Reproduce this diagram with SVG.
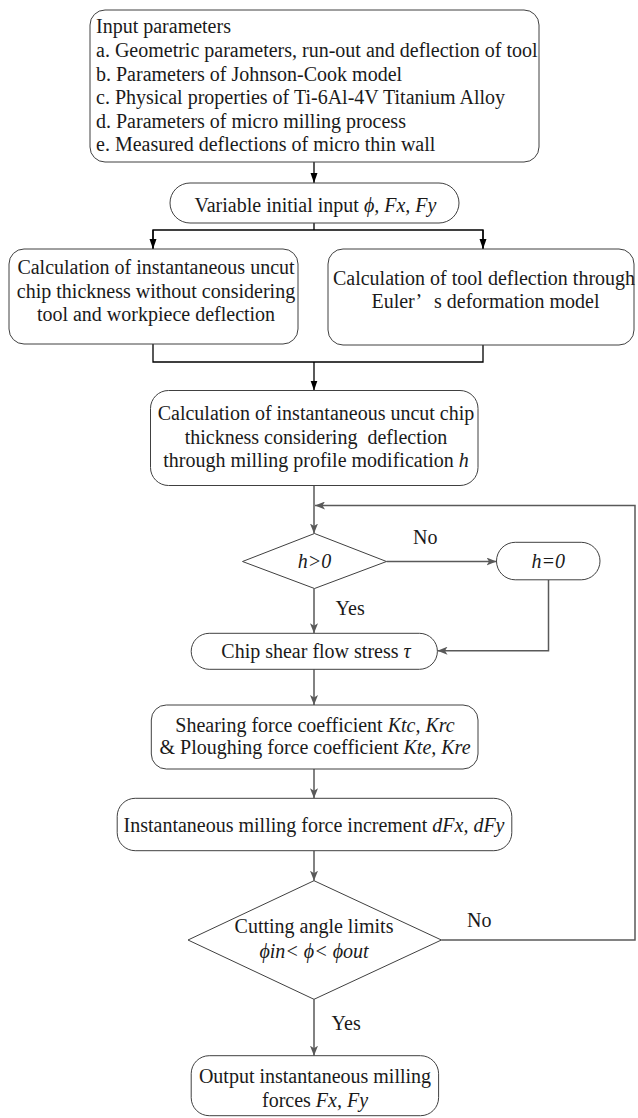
<svg xmlns="http://www.w3.org/2000/svg" width="638" height="1118" viewBox="0 0 638 1118">
<defs>
<style>
text{font-family:"Liberation Serif","Times New Roman",serif;font-size:20px;fill:#1a1a1a}
.c{text-anchor:middle}
.i{font-style:italic}
.box{fill:#fff;stroke:#404040;stroke-width:1}
.lk{fill:none;stroke:#000;stroke-width:1.3}
.lg{fill:none;stroke:#595959;stroke-width:1.5}
</style>
<marker id="ak" markerUnits="userSpaceOnUse" markerWidth="10" markerHeight="8" refX="10" refY="4" orient="auto">
<path d="M0,0.5 L10,4 L0,7.5 z" fill="#000"/>
</marker>
<marker id="ag" markerUnits="userSpaceOnUse" markerWidth="10" markerHeight="8" refX="10" refY="4" orient="auto">
<path d="M0,0 L10,4 L0,8 L2.5,4 z" fill="#595959"/>
</marker>
</defs>
<rect width="638" height="1118" fill="#fff"/>

<g id="connectors">
<line class="lk" x1="314" y1="162" x2="314" y2="183" marker-end="url(#ak)"/>
<polyline class="lk" points="314,223 314,230"/>
<polyline class="lk" points="153,249 153,230 483,230 483,249"/>
<line class="lk" x1="153" y1="230" x2="153" y2="249" marker-end="url(#ak)"/>
<line class="lk" x1="483" y1="230" x2="483" y2="249" marker-end="url(#ak)"/>
<polyline class="lk" points="153,344 153,362 483,362 483,345"/>
<line class="lk" x1="314" y1="362" x2="314" y2="390.5" marker-end="url(#ak)"/>
<line class="lg" x1="314" y1="485.5" x2="314" y2="533.5" marker-end="url(#ag)"/>
<polyline class="lg" points="441.4,940 635,940 635,505.5 315,505.5" marker-end="url(#ag)"/>
<line class="lg" x1="386.5" y1="561.5" x2="496.5" y2="561.5" marker-end="url(#ag)"/>
<polyline class="lg" points="548.5,580 548.5,650.7 437.5,650.7" marker-end="url(#ag)"/>
<line class="lg" x1="314" y1="588.5" x2="314" y2="633.3" marker-end="url(#ag)"/>
<line class="lg" x1="314" y1="669.3" x2="314" y2="705" marker-end="url(#ag)"/>
<line class="lg" x1="314" y1="769" x2="314" y2="798.3" marker-end="url(#ag)"/>
<line class="lg" x1="314" y1="850.7" x2="314" y2="880.7" marker-end="url(#ag)"/>
<line class="lg" x1="314" y1="999.3" x2="314" y2="1055.7" marker-end="url(#ag)"/>
<text x="413" y="544">No</text>
<text x="335.6" y="615">Yes</text>
<text x="467" y="926.7">No</text>
<text x="331.6" y="1030">Yes</text>
</g>

<g id="input">
<rect class="box" x="90" y="10" width="449" height="152" rx="15"/>
<text x="96" y="33.3">Input parameters</text>
<text x="96" y="57">a. Geometric parameters, run-out and deflection of tool</text>
<text x="96" y="80.5">b. Parameters of Johnson-Cook model</text>
<text x="96" y="104">c. Physical properties of Ti-6Al-4V Titanium Alloy</text>
<text x="96" y="127.5">d. Parameters of micro milling process</text>
<text x="96" y="151">e. Measured deflections of micro thin wall</text>
</g>

<g id="variable">
<rect class="box" x="170" y="183" width="289" height="40" rx="20"/>
<text class="c" x="315.5" y="211.5">Variable initial input <tspan class="i">ϕ, Fx, Fy</tspan></text>
</g>

<g id="calc-undeflected">
<rect class="box" x="9" y="249" width="289" height="95" rx="15"/>
<text class="c" x="156" y="274.3">Calculation of instantaneous uncut</text>
<text class="c" x="156" y="297.7">chip thickness without considering</text>
<text class="c" x="156" y="321">tool and workpiece deflection</text>
</g>

<g id="calc-tool-deflection">
<rect class="box" x="328" y="249" width="306" height="96" rx="15"/>
<text class="c" x="484" y="285">Calculation of tool deflection through</text>
<text class="c" x="485.5" y="308.3">Euler’<tspan dx="13">s deformation model</tspan></text>
</g>

<g id="calc-deflected">
<rect class="box" x="150.5" y="390.5" width="327.5" height="95" rx="18"/>
<text class="c" x="316" y="420">Calculation of instantaneous uncut chip</text>
<text class="c" x="316" y="444" xml:space="preserve">thickness considering  deflection</text>
<text class="c" x="316" y="466.7">through milling profile modification <tspan class="i">h</tspan></text>
</g>

<g id="decision-h">
<polygon class="box" points="314.5,533.5 386.5,561.5 314.5,588.5 242.5,561.5"/>
<text class="c i" x="314.5" y="567.5">h&gt;0</text>
</g>

<g id="h-zero">
<rect class="box" x="496.5" y="542.3" width="103.5" height="37.5" rx="18.75"/>
<text class="c i" x="548.3" y="567.5">h=0</text>
</g>

<g id="chip-stress">
<rect class="box" x="191.2" y="633.3" width="246.2" height="36" rx="18"/>
<text class="c" x="316" y="658.3">Chip shear flow stress <tspan class="i">τ</tspan></text>
</g>

<g id="coefficients">
<rect class="box" x="151.3" y="705" width="326.7" height="64" rx="15"/>
<text class="c" x="315" y="731.7">Shearing force coefficient <tspan class="i">Ktc, Krc</tspan></text>
<text class="c" x="315" y="754">&amp; Ploughing force coefficient <tspan class="i">Kte, Kre</tspan></text>
</g>

<g id="force-increment">
<rect class="box" x="117.2" y="798.3" width="394.6" height="52.4" rx="18"/>
<text class="c" x="314" y="831.7">Instantaneous milling force increment <tspan class="i">dFx, dFy</tspan></text>
</g>

<g id="decision-angle">
<polygon class="box" points="314,880.7 441.4,940 314,999.3 188,940"/>
<text class="c" x="314" y="933.3">Cutting angle limits</text>
<text class="c i" x="314" y="958.3">ϕin&lt; ϕ&lt; ϕout</text>
</g>

<g id="output">
<rect class="box" x="191.2" y="1055.7" width="247.4" height="60" rx="18"/>
<text class="c" x="315" y="1083.3">Output instantaneous milling</text>
<text class="c" x="315" y="1106.7">forces <tspan class="i">Fx, Fy</tspan></text>
</g>
</svg>
